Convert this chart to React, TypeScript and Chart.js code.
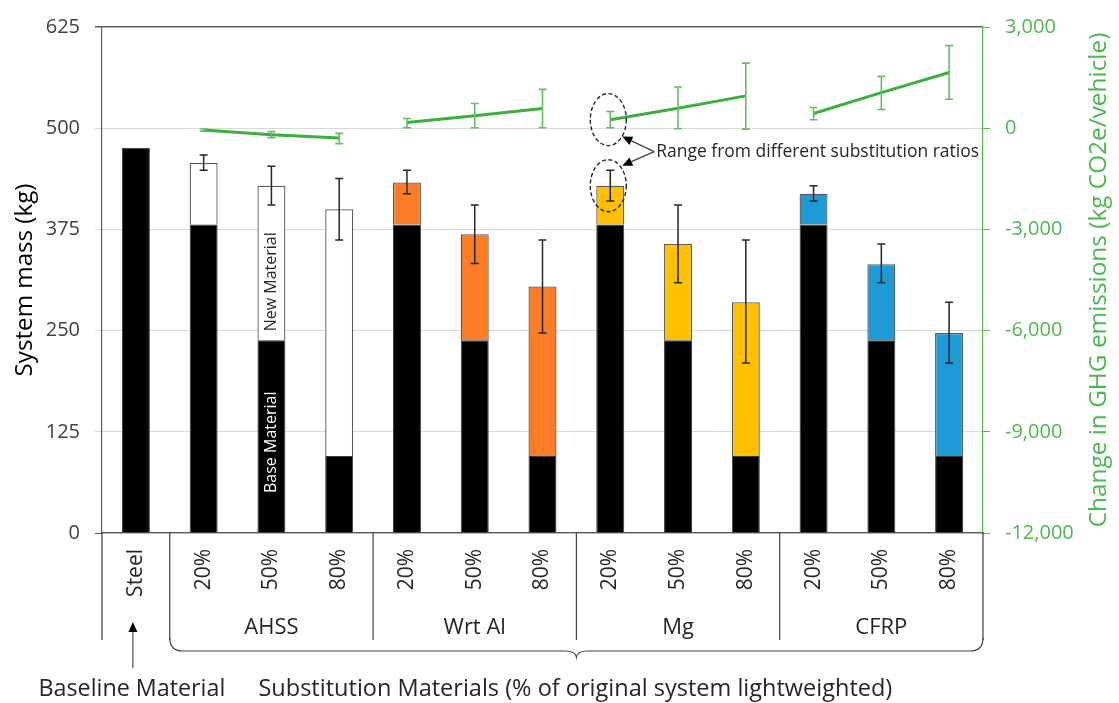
import React, { useEffect, useRef } from 'react';
import { Chart, registerables } from 'chart.js';

Chart.register(...registerables);

// ---------------- data ----------------
const categories = ['Steel', '20%', '50%', '80%', '20%', '50%', '80%', '20%', '50%', '80%', '20%', '50%', '80%'];
const groupNames = ['AHSS', 'Wrt Al', 'Mg', 'CFRP'];
const baseMass = [476, 381, 238, 95, 381, 238, 95, 381, 238, 95, 381, 238, 95];
const totalMass = [476, 457, 429, 400, 433, 369, 304.5, 429, 357, 285, 419, 332, 247];
const massLow = [null, 448, 405, 362, 419, 333, 247, 410, 309, 210, 410, 309, 210];
const massHigh = [null, 467, 453, 438, 448, 405, 362, 448, 405, 362, 429, 357, 285];
const ghgChange = [null, -56, -192, -292, 171, 368, 583, 250, 592, 958, 436, 1055, 1653];
const ghgLow = [null, -90, -280, -457, 15, 15, 15, 15, -15, -26, 250, 554, 858];
const ghgHigh = [null, -25, -103, -153, 289, 731, 1152, 495, 1223, 1930, 613, 1535, 2449];
const massTicks = [0, 125, 250, 375, 500, 625];
const ghgTicks = [-12000, -9000, -6000, -3000, 0, 3000];

// ---------------- styles ----------------
const FONT = '"Open Sans", "DejaVu Sans", sans-serif';
const GROUP_COLORS = ['#FFFFFF', '#FB7D27', '#FFC000', '#1E9BD7'];
const GREEN_LINE = '#3CAF3C';
const GREEN_ERR = '#62C062';
const GREEN_AXIS = '#4DB84D';
const DARK = '#595959';
const GRID = '#D9D9D9';

const newMass = totalMass.map((t, i) => (i === 0 ? null : +(t - baseMass[i]).toFixed(1)));
const newColors = categories.map((_, i) => (i === 0 ? '#000' : GROUP_COLORS[Math.floor((i - 1) / 3)]));
const groupOf = (i: number) => (i === 0 ? -1 : Math.floor((i - 1) / 3));

function fitSize(ctx: CanvasRenderingContext2D, text: string, width: number) {
  ctx.save();
  ctx.font = `100px ${FONT}`;
  const w = ctx.measureText(text).width;
  ctx.restore();
  return (100 * width) / w;
}

function drawText(
  ctx: CanvasRenderingContext2D,
  text: string,
  x: number,
  y: number,
  size: number,
  color: string,
  align: CanvasTextAlign,
  rotate = false
) {
  ctx.save();
  ctx.translate(x, y);
  if (rotate) ctx.rotate(-Math.PI / 2);
  ctx.font = `${size}px ${FONT}`;
  ctx.fillStyle = color;
  ctx.textAlign = align;
  ctx.textBaseline = 'middle';
  ctx.fillText(text, 0, 0);
  ctx.restore();
}

function arrow(ctx: CanvasRenderingContext2D, x1: number, y1: number, x2: number, y2: number, head = 10, hw = 4.5) {
  const ang = Math.atan2(y2 - y1, x2 - x1);
  const bx = x2 - head * Math.cos(ang);
  const by = y2 - head * Math.sin(ang);
  ctx.beginPath();
  ctx.moveTo(x1, y1);
  ctx.lineTo(bx, by);
  ctx.stroke();
  ctx.beginPath();
  ctx.moveTo(x2, y2);
  ctx.lineTo(bx + hw * Math.sin(ang), by - hw * Math.cos(ang));
  ctx.lineTo(bx - hw * Math.sin(ang), by + hw * Math.cos(ang));
  ctx.closePath();
  ctx.fill();
}

function errorBar(ctx: CanvasRenderingContext2D, x: number, a: number, b: number, cap: number) {
  ctx.beginPath();
  ctx.moveTo(x, a);
  ctx.lineTo(x, b);
  ctx.moveTo(x - cap, a);
  ctx.lineTo(x + cap, a);
  ctx.moveTo(x - cap, b);
  ctx.lineTo(x + cap, b);
  ctx.stroke();
}

const overlayPlugin = {
  id: 'overlay',
  afterDraw(chart: any) {
    const ctx: CanvasRenderingContext2D = chart.ctx;
    const xs = chart.scales.x;
    const ys = chart.scales.y;
    const y2 = chart.scales.y2;
    const area = chart.chartArea;
    const half = (xs.getPixelForValue(1) - xs.getPixelForValue(0)) / 2;
    ctx.save();

    // GHG error bars
    ctx.strokeStyle = GREEN_ERR;
    ctx.lineWidth = 1.6;
    categories.forEach((_, i) => {
      const lo = ghgLow[i];
      const hi = ghgHigh[i];
      if (lo == null || hi == null) return;
      errorBar(ctx, xs.getPixelForValue(i), y2.getPixelForValue(lo), y2.getPixelForValue(hi), 4);
    });

    // mass error bars
    ctx.strokeStyle = '#262626';
    ctx.lineWidth = 1.5;
    categories.forEach((_, i) => {
      const lo = massLow[i];
      const hi = massHigh[i];
      if (lo == null || hi == null) return;
      errorBar(ctx, xs.getPixelForValue(i), ys.getPixelForValue(lo), ys.getPixelForValue(hi), 4);
    });

    // in-bar labels
    const xl = xs.getPixelForValue(2);
    drawText(ctx, 'New Material', xl, ys.getPixelForValue(baseMass[2]) - 9, 16, '#262626', 'left', true);
    drawText(ctx, 'Base Material', xl, area.bottom - 40, 16, '#FFFFFF', 'left', true);

    // ellipses + arrows + note
    const k = 7;
    const ex = xs.getPixelForValue(k) - 2;
    const eTop = (y2.getPixelForValue(ghgLow[k]) + y2.getPixelForValue(ghgHigh[k])) / 2;
    const eBot = (ys.getPixelForValue(massLow[k]!) + ys.getPixelForValue(massHigh[k]!)) / 2;
    ctx.strokeStyle = '#262626';
    ctx.lineWidth = 1.4;
    ctx.setLineDash([4, 2.5]);
    ctx.beginPath();
    ctx.ellipse(ex, eTop, 18, 26, 0, 0, Math.PI * 2);
    ctx.stroke();
    ctx.beginPath();
    ctx.ellipse(ex, eBot, 18, 26, 0, 0, Math.PI * 2);
    ctx.stroke();
    ctx.setLineDash([]);
    const tx = ex + 48;
    const ty = (eTop + eBot) / 2 - 1;
    ctx.strokeStyle = '#404040';
    ctx.fillStyle = '#000';
    ctx.lineWidth = 1.3;
    arrow(ctx, tx - 2, ty, ex + 14, eTop + 17);
    arrow(ctx, tx - 2, ty, ex + 14, eBot - 20);
    const note = 'Range from different substitution ratios';
    drawText(ctx, note, tx, ty, fitSize(ctx, note, 323), '#262626', 'left');

    // category separators below the axis
    const bottom = area.bottom;
    const bounds = [area.left, ...[1, 4, 7, 10].map((i) => xs.getPixelForValue(i) - half), area.right];
    ctx.strokeStyle = '#404040';
    ctx.lineWidth = 1.2;
    ctx.beginPath();
    bounds.forEach((b) => {
      ctx.moveTo(b, bottom);
      ctx.lineTo(b, bottom + 107);
    });
    ctx.stroke();

    // group labels
    groupNames.forEach((g, gi) => {
      const c = xs.getPixelForValue(1 + gi * 3 + 1);
      drawText(ctx, g, c, bottom + 95, 22, '#262626', 'center');
    });

    // brace
    const L = bounds[1];
    const R = area.right;
    const C = (L + R) / 2;
    const by = bottom + 118;
    ctx.beginPath();
    ctx.moveTo(L, bottom + 105);
    ctx.quadraticCurveTo(L, by, L + 13, by);
    ctx.lineTo(C - 11, by);
    ctx.quadraticCurveTo(C - 1, by, C, by + 6);
    ctx.quadraticCurveTo(C + 1, by, C + 11, by);
    ctx.lineTo(R - 13, by);
    ctx.quadraticCurveTo(R, by, R, bottom + 105);
    ctx.stroke();

    // baseline arrow
    const sx = xs.getPixelForValue(0) - 3;
    ctx.strokeStyle = '#595959';
    ctx.fillStyle = '#000';
    ctx.lineWidth = 1.3;
    arrow(ctx, sx, bottom + 135, sx, bottom + 89, 10, 4.5);

    const t1 = 'Baseline Material';
    drawText(ctx, t1, sx - 1, bottom + 156, fitSize(ctx, t1, 187), '#262626', 'center');
    const t2 = 'Substitution Materials (% of original system lightweighted)';
    drawText(ctx, t2, C - 1, bottom + 156, fitSize(ctx, t2, 634), '#262626', 'center');

    // axis titles
    const mid = (area.top + area.bottom) / 2;
    const lt = 'System mass (kg)';
    drawText(ctx, lt, area.left - 77, mid, fitSize(ctx, lt, 193), '#000', 'center', true);
    const rt = 'Change in GHG emissions (kg CO2e/vehicle)';
    drawText(ctx, rt, area.right + 116, mid, fitSize(ctx, rt, 495), GREEN_AXIS, 'center', true);

    ctx.restore();
  },
};

export default function App() {
  const ref = useRef<HTMLCanvasElement>(null);

  useEffect(() => {
    const lineSets = groupNames.map((g) => ({
      type: 'line' as const,
      label: `GHG ${g}`,
      yAxisID: 'y2',
      data: categories.map((_, i) => (groupOf(i) === groupNames.indexOf(g) ? ghgChange[i] : null)),
      borderColor: GREEN_LINE,
      backgroundColor: GREEN_LINE,
      borderWidth: 3,
      pointRadius: 0,
      tension: 0,
      spanGaps: false,
      order: 0,
    }));

    const chart = new Chart(ref.current!, {
      type: 'bar',
      data: {
        labels: categories,
        datasets: [
          {
            type: 'bar',
            label: 'Base material',
            data: baseMass,
            backgroundColor: '#000000',
            borderColor: '#3a3a3a',
            borderWidth: 1,
            yAxisID: 'y',
            order: 2,
          },
          {
            type: 'bar',
            label: 'New material',
            data: newMass,
            backgroundColor: newColors,
            borderColor: DARK,
            borderWidth: 1.3,
            yAxisID: 'y',
            order: 2,
          },
          ...lineSets,
        ] as any,
      },
      options: {
        responsive: false,
        animation: false,
        devicePixelRatio: 1,
        datasets: { bar: { barPercentage: 0.413, categoryPercentage: 1 } },
        layout: { padding: { top: 24, left: 0, right: 0, bottom: 0 } },
        plugins: { legend: { display: false }, tooltip: { enabled: false }, title: { display: false } },
        scales: {
          x: {
            stacked: true,
            grid: { display: false, drawTicks: false },
            border: { color: DARK, width: 1.2 },
            ticks: {
              autoSkip: false,
              minRotation: 90,
              maxRotation: 90,
              padding: 16,
              color: '#262626',
              font: { family: FONT, size: 21 },
            },
            afterFit: (s: any) => {
              s.height = 170;
            },
          },
          y: {
            stacked: true,
            position: 'left',
            min: 0,
            max: 625,
            afterBuildTicks: (s: any) => {
              s.ticks = massTicks.map((v) => ({ value: v }));
            },
            grid: {
              color: (c: any) => (c.tick && c.tick.value === 625 ? DARK : GRID),
              tickColor: (c: any) => (c.tick && (c.tick.value === 625 || c.tick.value === 0) ? DARK : GRID),
              tickLength: 7,
              lineWidth: (c: any) => (c.tick && c.tick.value === 625 ? 1.5 : 1),
            },
            border: { color: DARK, width: 1.2 },
            ticks: { padding: 15, color: '#404040', font: { family: FONT, size: 20 } },
            afterFit: (s: any) => {
              s.width = 102;
            },
          },
          y2: {
            position: 'right',
            min: -12000,
            max: 3000,
            afterBuildTicks: (s: any) => {
              s.ticks = ghgTicks.map((v) => ({ value: v }));
            },
            grid: { drawOnChartArea: false, color: GREEN_AXIS, tickColor: GREEN_AXIS, tickLength: 7 },
            border: { color: GREEN_AXIS, width: 1.2 },
            ticks: {
              padding: 15,
              color: GREEN_AXIS,
              font: { family: FONT, size: 20 },
              callback: (v: any) => Number(v).toLocaleString('en-US'),
            },
            afterFit: (s: any) => {
              s.width = 136;
            },
          },
        },
      } as any,
      plugins: [overlayPlugin],
    });
    return () => chart.destroy();
  }, []);

  return (
    <div style={{ position: 'absolute', left: 0, top: 0, width: 1119, height: 703, background: '#fff' }}>
      <canvas ref={ref} width={1119} height={703} style={{ display: 'block' }} />
    </div>
  );
}
